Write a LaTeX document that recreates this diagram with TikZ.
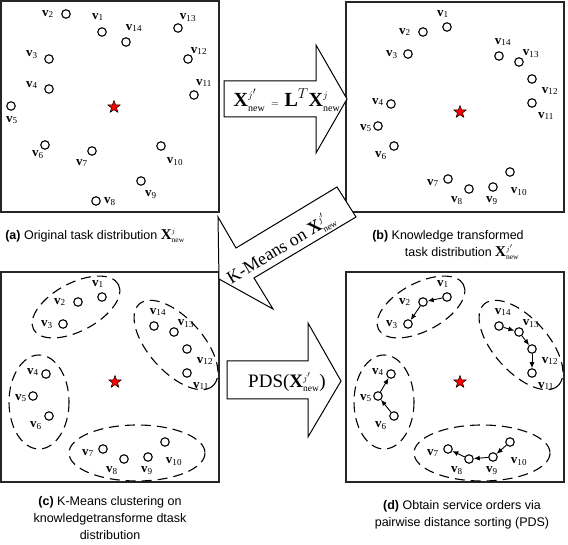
\documentclass[tikz,border=0pt]{standalone}
\usepackage{fontspec}
\setmainfont{Liberation Serif}
\newfontfamily\capfont{Liberation Sans}
\usetikzlibrary{arrows.meta, shapes.geometric}
\newcommand{\V}[1]{\textbf{v}\textsubscript{#1}}
\newcommand{\Xnew}[1]{\mathbf{X}^{\scriptscriptstyle #1}_{\scriptscriptstyle\mathrm{new}}}

\tikzset{
  panel/.style={draw=black!85, line width=1.2pt},
  vtx/.style={circle, draw, line width=1.1pt, minimum size=8.5pt, inner sep=0pt},
  lbl/.style={inner sep=0pt, font=\fontsize{13}{13}\selectfont},
  grp/.style={draw, line width=1.1pt, dash pattern=on 10pt off 6pt},
  hub/.style={star, star points=5, star point ratio=2.4, fill=red, draw=black,
    line width=0.5pt, minimum size=13pt, inner sep=0pt},
  bigarrow/.style={draw, line width=1pt, fill=white},
  caption/.style={font=\capfont\fontsize{12.5}{17}\selectfont, align=center, inner sep=0pt},
  ord/.style={-{Latex[length=6pt,width=5pt]}, line width=0.9pt},
}

\begin{document}
\begin{tikzpicture}[x=1pt, y=-1pt]
  \useasboundingbox (0,0) rectangle (568,545);

  % (a) original distribution
  \begin{scope}[shift={(1,1)}]
    \draw[panel] (0,0) rectangle (218,211);
    \node[hub] (sa) at (113,106) {};
    \node[vtx] (a1) at (101,31) {};  \node[lbl] (la1) at (97,16) {\V{1}};
    \node[vtx] (a2) at (65,13) {};   \node[lbl] (la2) at (47,13) {\V{2}};
    \node[vtx] (a3) at (48,58) {};   \node[lbl] (la3) at (31,54) {\V{3}};
    \node[vtx] (a4) at (48,88) {};   \node[lbl] (la4) at (31,84) {\V{4}};
    \node[vtx] (a5) at (10,105) {};  \node[lbl] (la5) at (11,119) {\V{5}};
    \node[vtx] (a6) at (44,144) {};  \node[lbl] (la6) at (37,154) {\V{6}};
    \node[vtx] (a7) at (91,150) {};  \node[lbl] (la7) at (81,162) {\V{7}};
    \node[vtx] (a8) at (95,200) {};  \node[lbl] (la8) at (109,201) {\V{8}};
    \node[vtx] (a9) at (140,180) {}; \node[lbl] (la9) at (150,194) {\V{9}};
    \node[vtx] (a10) at (160,145) {}; \node[lbl] (la10) at (174,161) {\V{10}};
    \node[vtx] (a11) at (193,94) {};  \node[lbl] (la11) at (203,82) {\V{11}};
    \node[vtx] (a12) at (187,58) {};  \node[lbl] (la12) at (198,50) {\V{12}};
    \node[vtx] (a13) at (177,27) {};  \node[lbl] (la13) at (187,17) {\V{13}};
    \node[vtx] (a14) at (125,41) {};  \node[lbl] (la14) at (133,27) {\V{14}};
  \end{scope}

  % (b) transformed distribution
  \begin{scope}[shift={(346,2)}]
    \draw[panel] (0,0) rectangle (218,210);
    \node[hub] (sb) at (114,110) {};
    \node[vtx] (b1) at (101,25) {};  \node[lbl] (lb1) at (97,12) {\V{1}};
    \node[vtx] (b2) at (77,30) {};   \node[lbl] (lb2) at (59,30) {\V{2}};
    \node[vtx] (b3) at (62,52) {};   \node[lbl] (lb3) at (46,53) {\V{3}};
    \node[vtx] (b4) at (45,102) {};  \node[lbl] (lb4) at (32,100) {\V{4}};
    \node[vtx] (b5) at (32,124) {};  \node[lbl] (lb5) at (20,126) {\V{5}};
    \node[vtx] (b6) at (48,144) {};  \node[lbl] (lb6) at (35,154) {\V{6}};
    \node[vtx] (b7) at (102,177) {}; \node[lbl] (lb7) at (87,181) {\V{7}};
    \node[vtx] (b8) at (123,187) {}; \node[lbl] (lb8) at (111,199) {\V{8}};
    \node[vtx] (b9) at (147,185) {}; \node[lbl] (lb9) at (146,199) {\V{9}};
    \node[vtx] (b10) at (164,170) {}; \node[lbl] (lb10) at (173,190) {\V{10}};
    \node[vtx] (b11) at (186,101) {}; \node[lbl] (lb11) at (200,114) {\V{11}};
    \node[vtx] (b12) at (186,77) {};  \node[lbl] (lb12) at (204,89) {\V{12}};
    \node[vtx] (b13) at (173,60) {};  \node[lbl] (lb13) at (185,52) {\V{13}};
    \node[vtx] (b14) at (153,54) {};  \node[lbl] (lb14) at (157,40) {\V{14}};
  \end{scope}

  % (c) clusters
  \begin{scope}[shift={(1,272)}]
    \draw[panel] (0,0) rectangle (218,210);
    \draw[grp] (75,35) ellipse [x radius=48, y radius=24, rotate=28];
    \draw[grp] (175,73) ellipse [x radius=55, y radius=27, rotate=-48];
    \draw[grp] (38,130) ellipse [x radius=30, y radius=47];
    \draw[grp] (136,181) ellipse [x radius=68, y radius=28];
    \node[hub] (sc) at (114,110) {};
    \node[vtx] (c1) at (101,25) {};  \node[lbl] (lc1) at (97,12) {\V{1}};
    \node[vtx] (c2) at (77,30) {};   \node[lbl] (lc2) at (59,30) {\V{2}};
    \node[vtx] (c3) at (62,52) {};   \node[lbl] (lc3) at (46,53) {\V{3}};
    \node[vtx] (c4) at (45,102) {};  \node[lbl] (lc4) at (32,100) {\V{4}};
    \node[vtx] (c5) at (32,124) {};  \node[lbl] (lc5) at (20,126) {\V{5}};
    \node[vtx] (c6) at (48,144) {};  \node[lbl] (lc6) at (35,154) {\V{6}};
    \node[vtx] (c7) at (102,177) {}; \node[lbl] (lc7) at (87,181) {\V{7}};
    \node[vtx] (c8) at (123,187) {}; \node[lbl] (lc8) at (111,199) {\V{8}};
    \node[vtx] (c9) at (147,185) {}; \node[lbl] (lc9) at (146,199) {\V{9}};
    \node[vtx] (c10) at (164,170) {}; \node[lbl] (lc10) at (173,190) {\V{10}};
    \node[vtx] (c11) at (186,101) {}; \node[lbl] (lc11) at (200,114) {\V{11}};
    \node[vtx] (c12) at (186,77) {};  \node[lbl] (lc12) at (204,89) {\V{12}};
    \node[vtx] (c13) at (173,60) {};  \node[lbl] (lc13) at (185,52) {\V{13}};
    \node[vtx] (c14) at (153,54) {};  \node[lbl] (lc14) at (157,40) {\V{14}};
  \end{scope}

  % (d) service orders
  \begin{scope}[shift={(346,272)}]
    \draw[panel] (0,0) rectangle (218,210);
    \draw[grp] (75,35) ellipse [x radius=48, y radius=24, rotate=28];
    \draw[grp] (175,73) ellipse [x radius=55, y radius=27, rotate=-48];
    \draw[grp] (38,130) ellipse [x radius=30, y radius=47];
    \draw[grp] (136,181) ellipse [x radius=68, y radius=28];
    \node[hub] (sd) at (114,110) {};
    \node[vtx] (d1) at (101,25) {};  \node[lbl] (ld1) at (97,12) {\V{1}};
    \node[vtx] (d2) at (77,30) {};   \node[lbl] (ld2) at (59,30) {\V{2}};
    \node[vtx] (d3) at (62,52) {};   \node[lbl] (ld3) at (46,53) {\V{3}};
    \node[vtx] (d4) at (45,102) {};  \node[lbl] (ld4) at (32,100) {\V{4}};
    \node[vtx] (d5) at (32,124) {};  \node[lbl] (ld5) at (20,126) {\V{5}};
    \node[vtx] (d6) at (48,144) {};  \node[lbl] (ld6) at (35,154) {\V{6}};
    \node[vtx] (d7) at (102,177) {}; \node[lbl] (ld7) at (87,181) {\V{7}};
    \node[vtx] (d8) at (123,187) {}; \node[lbl] (ld8) at (111,199) {\V{8}};
    \node[vtx] (d9) at (147,185) {}; \node[lbl] (ld9) at (146,199) {\V{9}};
    \node[vtx] (d10) at (164,170) {}; \node[lbl] (ld10) at (173,190) {\V{10}};
    \node[vtx] (d11) at (186,101) {}; \node[lbl] (ld11) at (200,114) {\V{11}};
    \node[vtx] (d12) at (186,77) {};  \node[lbl] (ld12) at (204,89) {\V{12}};
    \node[vtx] (d13) at (173,60) {};  \node[lbl] (ld13) at (185,52) {\V{13}};
    \node[vtx] (d14) at (153,54) {};  \node[lbl] (ld14) at (157,40) {\V{14}};
    % sorted orders
    \draw[ord] (d1) -- (d2);
    \draw[ord] (d2) -- (d3);
    \draw[ord] (d14) -- (d13);
    \draw[ord] (d13) -- (d12);
    \draw[ord] (d12) -- (d11);
    \draw[ord] (d6) -- (d5);
    \draw[ord] (d5) -- (d4);
    \draw[ord] (d10) -- (d9);
    \draw[ord] (d9) -- (d8);
    \draw[ord] (d8) -- (d7);
  \end{scope}

  % big arrows between panels
  \draw[bigarrow] (224,81) -- (316,81) -- (316,45) -- (347,99) -- (316,153)
    -- (316,117) -- (224,117) -- cycle;
  \node (trf) at (287,100) {\fontsize{20}{24}\selectfont
    $\Xnew{j'} \mathrel{\scriptscriptstyle=} \mathbf{L}^{\scriptstyle T}\Xnew{j}$};
  \draw[bigarrow] (337,187) -- (356,217) -- (254,278) -- (273,309) -- (219,279)
    -- (218,217) -- (236,248) -- cycle;
  \node[rotate=31] (kms) at (281,248) {\fontsize{18}{20}\selectfont
    K-Means on $\Xnew{j'}$};
  \draw[bigarrow] (227,361) -- (308,361) -- (308,323) -- (341,381) -- (308,437)
    -- (308,399) -- (227,399) -- cycle;
  \node (pds) at (287,382) {\fontsize{19}{22}\selectfont PDS($\Xnew{j'}$)};

  % captions
  \node[caption] (capa) at (95,236) {\textbf{(a)} Original task distribution
    {\fontsize{15}{15}\selectfont$\Xnew{j}$}};
  \node[caption] (capb) at (448,236) {\textbf{(b)} Knowledge transformed};
  \node[caption] (capb2) at (462,252) {task distribution
    {\fontsize{15}{15}\selectfont$\Xnew{j'}$}};
  \node[caption] (capc) at (110,518) {\textbf{(c)} K-Means clustering on\\
    knowledgetransforme dtask\\distribution};
  \node[caption] (capd) at (462,515) {\textbf{(d)} Obtain service orders via\\
    pairwise distance sorting (PDS)};
\end{tikzpicture}
\end{document}
